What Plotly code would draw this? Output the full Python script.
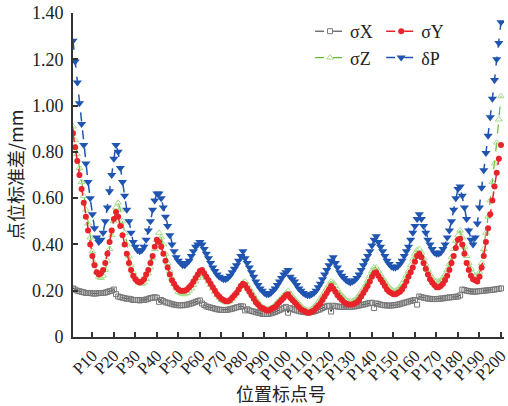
import plotly.graph_objects as go

points = list(range(1, 201))
tick_positions = list(range(10, 201, 10))
tick_labels = ["P%d" % v for v in tick_positions]
y_ticks = [0, 0.2, 0.4, 0.6, 0.8, 1.0, 1.2, 1.4]
y_tick_labels = ["0", "0.20", "0.40", "0.60", "0.80", "1.00", "1.20", "1.40"]
x_title = "位置标点号"
y_title = "点位标准差/mm"

sigma_x = [
    0.21, 0.205, 0.20, 0.198, 0.195, 0.193, 0.19, 0.19, 0.19, 0.188, 0.188, 0.188, 0.19, 0.19, 0.19, 0.192, 0.195, 0.198, 0.20, 0.205,
    0.185, 0.175, 0.172, 0.17, 0.168, 0.165, 0.165, 0.163, 0.16, 0.16, 0.16, 0.158, 0.16, 0.16, 0.162, 0.165, 0.168, 0.17, 0.172, 0.17,
    0.152, 0.16, 0.155, 0.15, 0.148, 0.145, 0.142, 0.14, 0.138, 0.137, 0.137, 0.137, 0.138, 0.14, 0.142, 0.145, 0.148, 0.152, 0.155, 0.158,
    0.145, 0.138, 0.132, 0.13, 0.127, 0.125, 0.122, 0.12, 0.118, 0.117, 0.117, 0.117, 0.118, 0.12, 0.122, 0.125, 0.128, 0.13, 0.133, 0.132,
    0.115, 0.12, 0.115, 0.112, 0.11, 0.107, 0.105, 0.103, 0.10, 0.10, 0.10, 0.10, 0.102, 0.105, 0.108, 0.112, 0.116, 0.12, 0.125, 0.13,
    0.105, 0.125, 0.12, 0.118, 0.115, 0.112, 0.11, 0.108, 0.107, 0.107, 0.107, 0.108, 0.11, 0.113, 0.117, 0.12, 0.125, 0.13, 0.133, 0.135,
    0.11, 0.135, 0.133, 0.132, 0.13, 0.13, 0.13, 0.13, 0.13, 0.13, 0.131, 0.132, 0.134, 0.136, 0.138, 0.14, 0.142, 0.145, 0.147, 0.148,
    0.125, 0.145, 0.143, 0.14, 0.138, 0.137, 0.136, 0.136, 0.136, 0.137, 0.138, 0.14, 0.142, 0.145, 0.148, 0.15, 0.153, 0.156, 0.158, 0.16,
    0.14, 0.175, 0.172, 0.17, 0.168, 0.166, 0.165, 0.164, 0.164, 0.164, 0.165, 0.166, 0.167, 0.168, 0.17, 0.171, 0.172, 0.173, 0.174, 0.175,
    0.18, 0.205, 0.203, 0.20, 0.198, 0.197, 0.196, 0.196, 0.197, 0.198, 0.199, 0.20, 0.201, 0.202, 0.203, 0.204, 0.205, 0.207, 0.208, 0.21,
]

sigma_y = [
    0.88, 0.82, 0.76, 0.70, 0.64, 0.58, 0.52, 0.46, 0.40, 0.35, 0.31, 0.28, 0.27, 0.275, 0.29, 0.32, 0.36, 0.41, 0.46, 0.51,
    0.54, 0.52, 0.48, 0.44, 0.40, 0.36, 0.32, 0.29, 0.265, 0.25, 0.24, 0.235, 0.24, 0.25, 0.27, 0.29, 0.32, 0.35, 0.39, 0.42,
    0.41, 0.39, 0.36, 0.33, 0.30, 0.27, 0.245, 0.23, 0.215, 0.205, 0.20, 0.20, 0.20, 0.205, 0.215, 0.225, 0.24, 0.255, 0.27, 0.285,
    0.29, 0.275, 0.26, 0.245, 0.23, 0.215, 0.20, 0.185, 0.175, 0.165, 0.16, 0.155, 0.155, 0.16, 0.17, 0.18, 0.19, 0.205, 0.22, 0.23,
    0.225, 0.21, 0.195, 0.18, 0.165, 0.15, 0.14, 0.13, 0.125, 0.12, 0.115, 0.115, 0.12, 0.125, 0.13, 0.14, 0.15, 0.16, 0.17, 0.18,
    0.185, 0.17, 0.16, 0.15, 0.14, 0.13, 0.12, 0.115, 0.11, 0.105, 0.105, 0.11, 0.115, 0.125, 0.135, 0.145, 0.16, 0.175, 0.19, 0.205,
    0.22, 0.21, 0.195, 0.18, 0.17, 0.16, 0.15, 0.145, 0.14, 0.14, 0.14, 0.145, 0.15, 0.16, 0.175, 0.19, 0.205, 0.22, 0.24, 0.26,
    0.275, 0.28, 0.265, 0.25, 0.235, 0.22, 0.205, 0.195, 0.19, 0.185, 0.185, 0.19, 0.195, 0.205, 0.22, 0.24, 0.26, 0.28, 0.30, 0.325,
    0.35, 0.36, 0.345, 0.32, 0.295, 0.27, 0.25, 0.235, 0.225, 0.215, 0.215, 0.22, 0.23, 0.245, 0.265, 0.29, 0.32, 0.35, 0.385, 0.42,
    0.425, 0.40, 0.36, 0.32, 0.29, 0.265, 0.25, 0.245, 0.24, 0.26, 0.30, 0.35, 0.41, 0.47, 0.53, 0.59, 0.65, 0.71, 0.77, 0.83,
]

sigma_z = [
    0.91, 0.85, 0.79, 0.73, 0.67, 0.61, 0.55, 0.49, 0.43, 0.37, 0.32, 0.28, 0.26, 0.255, 0.265, 0.29, 0.33, 0.38, 0.44, 0.50,
    0.56, 0.58, 0.55, 0.50, 0.45, 0.40, 0.35, 0.31, 0.28, 0.26, 0.245, 0.235, 0.23, 0.235, 0.25, 0.275, 0.30, 0.34, 0.38, 0.42,
    0.45, 0.43, 0.40, 0.36, 0.32, 0.285, 0.255, 0.23, 0.21, 0.195, 0.19, 0.185, 0.185, 0.19, 0.20, 0.21, 0.225, 0.24, 0.255, 0.265,
    0.28, 0.27, 0.255, 0.24, 0.225, 0.21, 0.195, 0.18, 0.17, 0.16, 0.155, 0.15, 0.15, 0.155, 0.165, 0.175, 0.19, 0.205, 0.22, 0.235,
    0.24, 0.225, 0.21, 0.195, 0.18, 0.165, 0.15, 0.14, 0.13, 0.125, 0.12, 0.12, 0.125, 0.13, 0.14, 0.15, 0.16, 0.17, 0.18, 0.19,
    0.20, 0.185, 0.175, 0.165, 0.155, 0.145, 0.135, 0.125, 0.12, 0.115, 0.115, 0.12, 0.13, 0.14, 0.15, 0.165, 0.18, 0.195, 0.21, 0.225,
    0.24, 0.235, 0.22, 0.205, 0.19, 0.18, 0.17, 0.16, 0.155, 0.155, 0.155, 0.16, 0.17, 0.18, 0.195, 0.21, 0.225, 0.245, 0.265, 0.285,
    0.30, 0.30, 0.285, 0.27, 0.255, 0.24, 0.225, 0.215, 0.205, 0.20, 0.20, 0.205, 0.215, 0.23, 0.245, 0.265, 0.285, 0.31, 0.335, 0.36,
    0.375, 0.38, 0.365, 0.34, 0.315, 0.29, 0.27, 0.255, 0.245, 0.24, 0.24, 0.245, 0.255, 0.27, 0.29, 0.315, 0.345, 0.38, 0.415, 0.44,
    0.46, 0.43, 0.39, 0.35, 0.32, 0.295, 0.275, 0.265, 0.26, 0.28, 0.32, 0.38, 0.45, 0.52, 0.59, 0.67, 0.75, 0.84, 0.94, 1.04,
]

delta_p = [
    1.28, 1.19, 1.10, 1.01, 0.92, 0.83, 0.75, 0.67, 0.60, 0.53, 0.47, 0.43, 0.41, 0.42, 0.45, 0.50, 0.56, 0.63, 0.70, 0.77,
    0.83, 0.80, 0.73, 0.67, 0.61, 0.55, 0.50, 0.45, 0.41, 0.39, 0.375, 0.37, 0.375, 0.39, 0.42, 0.46, 0.50, 0.55, 0.59, 0.62,
    0.62, 0.60, 0.56, 0.52, 0.48, 0.44, 0.40, 0.37, 0.345, 0.33, 0.32, 0.31, 0.31, 0.32, 0.33, 0.35, 0.37, 0.39, 0.40, 0.41,
    0.40, 0.38, 0.36, 0.34, 0.32, 0.30, 0.285, 0.27, 0.26, 0.255, 0.25, 0.25, 0.255, 0.265, 0.28, 0.295, 0.31, 0.33, 0.35, 0.37,
    0.34, 0.32, 0.30, 0.28, 0.26, 0.24, 0.225, 0.21, 0.20, 0.19, 0.185, 0.185, 0.19, 0.20, 0.21, 0.225, 0.24, 0.255, 0.27, 0.28,
    0.29, 0.26, 0.25, 0.24, 0.225, 0.21, 0.20, 0.19, 0.185, 0.18, 0.18, 0.185, 0.19, 0.20, 0.215, 0.23, 0.25, 0.27, 0.29, 0.31,
    0.33, 0.345, 0.32, 0.30, 0.28, 0.265, 0.255, 0.245, 0.24, 0.235, 0.24, 0.245, 0.255, 0.27, 0.29, 0.31, 0.33, 0.35, 0.37, 0.395,
    0.42, 0.435, 0.41, 0.39, 0.37, 0.35, 0.33, 0.315, 0.305, 0.30, 0.30, 0.305, 0.315, 0.33, 0.35, 0.37, 0.39, 0.42, 0.45, 0.48,
    0.51, 0.53, 0.51, 0.48, 0.45, 0.42, 0.40, 0.38, 0.365, 0.36, 0.36, 0.365, 0.38, 0.40, 0.43, 0.46, 0.50, 0.55, 0.60, 0.64,
    0.65, 0.61, 0.56, 0.51, 0.46, 0.42, 0.40, 0.43, 0.49, 0.56, 0.645, 0.72, 0.795, 0.87, 0.95, 1.03, 1.11, 1.20, 1.27, 1.36,
]

FONT = "Liberation Serif, Times New Roman, Noto Sans CJK SC, serif"
CJK_FONT = "Noto Sans CJK SC, Liberation Serif, serif"

fig = go.Figure()
fig.add_trace(go.Scatter(
    x=points, y=sigma_x, name="σX", mode="lines+markers", legend="legend",
    line=dict(color="#333333", width=1, dash="dash"),
    marker=dict(symbol="square-open", size=5, color="#777777", line=dict(width=1))))
fig.add_trace(go.Scatter(
    x=points, y=sigma_z, name="σZ", mode="lines+markers", legend="legend",
    line=dict(color="#66bb33", width=1.2, dash="dash"),
    marker=dict(symbol="triangle-up-open", size=6, color="#a8dc8c", line=dict(width=1))))
fig.add_trace(go.Scatter(
    x=points, y=sigma_y, name="σY", mode="lines+markers", legend="legend2",
    line=dict(color="#e8232a", width=1.5, dash="dash"),
    marker=dict(symbol="circle", size=6, color="#e8232a")))
fig.add_trace(go.Scatter(
    x=points, y=delta_p, name="δP", mode="lines+markers", legend="legend2",
    line=dict(color="#1f55b0", width=1.5, dash="dash"),
    marker=dict(symbol="triangle-down", size=8, color="#1f55b0")))

legend_common = dict(
    font=dict(family=FONT, size=18, color="#222222"),
    bgcolor="rgba(0,0,0,0)", yanchor="top", xanchor="left",
    itemwidth=30, tracegroupgap=0, traceorder="normal",
)

fig.update_layout(
    width=508, height=406,
    margin=dict(l=73, r=4, t=13, b=69),
    paper_bgcolor="white", plot_bgcolor="white",
    font=dict(family=FONT, size=17, color="#222222"),
    legend=dict(x=0.55, y=1.0, **legend_common),
    legend2=dict(x=0.715, y=1.0, **legend_common),
    xaxis=dict(
        range=[1, 201.4], tickmode="array", tickvals=tick_positions, ticktext=tick_labels,
        tickangle=-45, ticks="inside", ticklen=5, tickwidth=1.5, tickcolor="#333333",
        showline=True, linecolor="#333333", linewidth=2, showgrid=False, zeroline=False,
        tickfont=dict(family=FONT, size=17, color="#222222"),
        automargin=False, ticklabeloverflow="allow",
    ),
    yaxis=dict(
        range=[0, 1.40], tickmode="array", tickvals=y_ticks, ticktext=y_tick_labels,
        ticks="inside", ticklen=5, tickwidth=1.5, tickcolor="#333333",
        showline=True, linecolor="#333333", linewidth=2, showgrid=False, zeroline=False,
        tickfont=dict(family=FONT, size=18, color="#222222"), ticklabelstandoff=4,
        automargin=False, ticklabeloverflow="allow",
    ),
    annotations=[
        dict(text=x_title, xref="paper", yref="paper", x=0.483, y=-0.173,
             xanchor="center", yanchor="middle", showarrow=False,
             font=dict(family=CJK_FONT, size=18, color="#222222")),
        dict(text=y_title, xref="paper", yref="paper", x=-0.1346, y=0.5,
             xanchor="center", yanchor="middle", textangle=-90, showarrow=False,
             font=dict(family=CJK_FONT, size=18, color="#222222")),
    ],
)

fig.write_html(
    "out.html",
    config={"displayModeBar": False},
    post_script="document.body.style.margin='0px';document.body.style.overflow='hidden';",
)
